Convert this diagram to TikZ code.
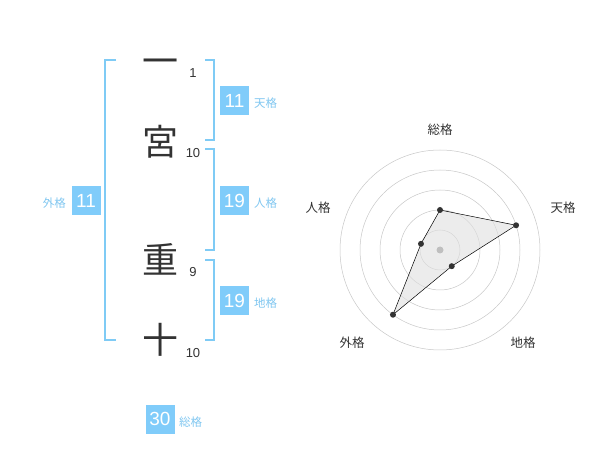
\documentclass[tikz,border=0pt]{standalone}
\usepackage{fontspec}
\usetikzlibrary{calc}
\setmainfont{Liberation Sans}
\newfontfamily\jp{Noto Sans CJK JP}
\definecolor{brk}{HTML}{7FCBF5}
\definecolor{boxc}{HTML}{80CCFA}
\definecolor{lbl}{HTML}{7FC6F0}
\definecolor{txt}{HTML}{333333}
\begin{document}
\begin{tikzpicture}[x=1pt,y=-1pt,
  kanji/.style={font=\jp\fontsize{36}{36}\selectfont, text=txt, inner sep=0pt, text height=31.7pt, text depth=4.3pt},
  strk/.style={font=\fontsize{13}{13}\selectfont, text=txt, inner sep=0pt},
  numbox/.style={fill=boxc, text=white, minimum width=29pt, minimum height=29pt, inner sep=0pt, font=\fontsize{19}{19}\selectfont},
  kaku/.style={font=\jp\fontsize{11.5}{12}\selectfont, text=lbl, inner sep=0pt},
  brack/.style={draw=brk, line width=1.6pt},
  ring/.style={draw=black!22, line width=0.5pt},
  rlab/.style={font=\jp\fontsize{12.5}{13}\selectfont, text=txt, inner sep=0pt},
  pt/.style={circle, fill=txt, inner sep=0pt, minimum size=6pt}
]
\useasboundingbox (0,0) rectangle (600,470);
% characters
\node[kanji] (c1) at (160,61) {一};
\node[kanji] (c2) at (160,142) {宮};
\node[kanji] (c3) at (160,260) {重};
\node[kanji] (c4) at (160,340) {十};
\node[strk] (n1) at (193,73) {1};
\node[strk] (n2) at (193,153) {10};
\node[strk] (n3) at (193,272) {9};
\node[strk] (n4) at (193,353) {10};
% brackets
\draw[brack] (116,60) -- (105,60) -- (105,340) -- (116,340);
\draw[brack] (205,60) -- (214,60) -- (214,140) -- (205,140);
\draw[brack] (205,149) -- (214,149) -- (214,250) -- (205,250);
\draw[brack] (205,260) -- (214,260) -- (214,340) -- (205,340);
% boxes
\node[numbox] (b1) at (234.5,100.5) {11};
\node[kaku, anchor=west] (l1) at (254,103) {天格};
\node[numbox] (b2) at (234.5,200.5) {19};
\node[kaku, anchor=west] (l2) at (254,203) {人格};
\node[numbox] (b3) at (234.5,300.5) {19};
\node[kaku, anchor=west] (l3) at (254,303) {地格};
\node[numbox] (b4) at (86,200.5) {11};
\node[kaku, anchor=east] (l4) at (66,203) {外格};
\node[numbox] (b5) at (160,419) {30};
\node[kaku, anchor=west] (l5) at (179,422) {総格};
% radar
\coordinate (o) at (440,250);
\foreach \r in {20,40,60,80,100} \draw[ring] (o) circle (\r);
\coordinate (pS) at ($(o)+(-90:40)$);
\coordinate (pT) at ($(o)+(-18:80)$);
\coordinate (pC) at ($(o)+(54:20)$);
\coordinate (pG) at ($(o)+(126:80)$);
\coordinate (pJ) at ($(o)+(-162:20)$);
\fill[black!12, opacity=0.6] (pS) -- (pT) -- (pC) -- (pG) -- (pJ) -- cycle;
\draw[black, line width=0.5pt] (pS) -- (pT) -- (pC) -- (pG) -- (pJ) -- cycle;
\node[circle, fill=black!25, inner sep=0pt, minimum size=7pt] (oc) at (o) {};
\foreach \p in {pS,pT,pC,pG,pJ} \node[pt] at (\p) {};
\node[rlab] (rS) at (440,130) {総格};
\node[rlab] (rT) at (563,208) {天格};
\node[rlab] (rC) at (523,343) {地格};
\node[rlab] (rG) at (352,343) {外格};
\node[rlab] (rJ) at (318,208) {人格};
\end{tikzpicture}
\end{document}
